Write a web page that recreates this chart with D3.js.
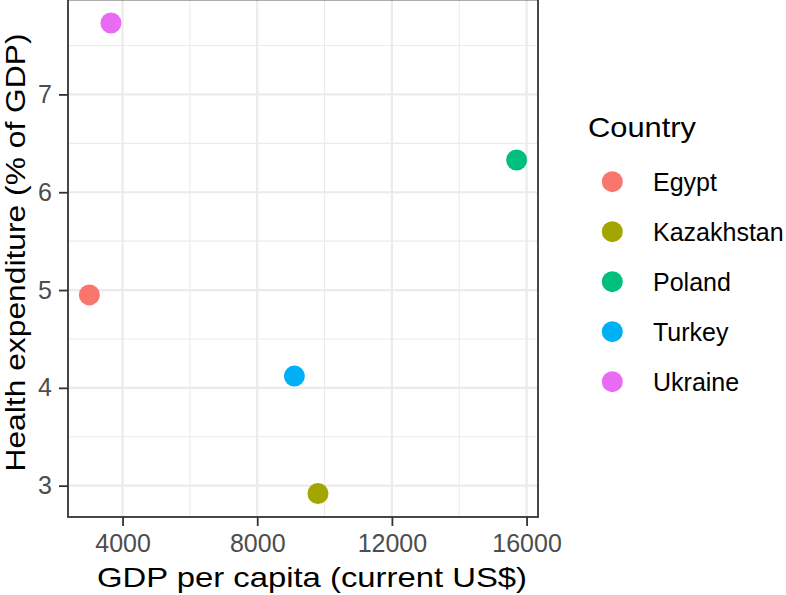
<!DOCTYPE html>
<html>
<head>
<meta charset="utf-8">
<script src="https://cdn.jsdelivr.net/npm/d3@7/dist/d3.min.js"></script>
<style>
  html, body { margin: 0; padding: 0; background: #fff; }
  text { font-family: "Liberation Sans", Arial, Helvetica, sans-serif; }
</style>
</head>
<body>
<svg id="chart" width="786" height="595"></svg>
<script>
// ---- data ----
const countries = ["Egypt", "Kazakhstan", "Poland", "Turkey", "Ukraine"];
const gdpPerCapita = [3014, 9804, 15705, 9104, 3655];
const healthExp = [4.95, 2.92, 6.33, 4.12, 7.73];
const colors = ["#F8766D", "#A3A500", "#00BF7D", "#00B0F6", "#E76BF3"];
const xTicks = [4000, 8000, 12000, 16000];
const xMinor = [6000, 10000, 14000];
const yTicks = [3, 4, 5, 6, 7];
const yMinor = [3.5, 4.5, 5.5, 6.5, 7.5];
const xTitle = "GDP per capita (current US$)";
const yTitle = "Health expenditure (% of GDP)";
const legendTitle = "Country";

const data = countries.map((c, i) => ({ country: c, x: gdpPerCapita[i], y: healthExp[i], color: colors[i] }));

// ---- layout ----
const svg = d3.select("#chart");
const P = { left: 68, right: 538, top: -0.5, bottom: 517 };

function expand(ext) { const r = ext[1] - ext[0]; return [ext[0] - 0.05 * r, ext[1] + 0.05 * r]; }
const x = d3.scaleLinear().domain(expand(d3.extent(gdpPerCapita))).range([P.left, P.right]);
const y = d3.scaleLinear().domain(expand(d3.extent(healthExp))).range([P.bottom, P.top]);
const color = d3.scaleOrdinal().domain(countries).range(colors);

const g = svg.append("g");

// panel background
g.append("rect").attr("x", P.left).attr("y", P.top)
  .attr("width", P.right - P.left).attr("height", P.bottom - P.top).attr("fill", "#fff");

// minor grid
g.selectAll(".xminor").data(xMinor.filter(v => x(v) > P.left && x(v) < P.right)).enter().append("line")
  .attr("x1", d => x(d)).attr("x2", d => x(d)).attr("y1", P.top).attr("y2", P.bottom)
  .attr("stroke", "#EBEBEB").attr("stroke-width", 1.1);
g.selectAll(".yminor").data(yMinor.filter(v => y(v) > P.top && y(v) < P.bottom)).enter().append("line")
  .attr("y1", d => y(d)).attr("y2", d => y(d)).attr("x1", P.left).attr("x2", P.right)
  .attr("stroke", "#EBEBEB").attr("stroke-width", 1.1);
// major grid
g.selectAll(".xmajor").data(xTicks).enter().append("line")
  .attr("x1", d => x(d)).attr("x2", d => x(d)).attr("y1", P.top).attr("y2", P.bottom)
  .attr("stroke", "#EBEBEB").attr("stroke-width", 2.2);
g.selectAll(".ymajor").data(yTicks).enter().append("line")
  .attr("y1", d => y(d)).attr("y2", d => y(d)).attr("x1", P.left).attr("x2", P.right)
  .attr("stroke", "#EBEBEB").attr("stroke-width", 2.2);

// points
g.selectAll(".pt").data(data).enter().append("circle")
  .attr("cx", d => x(d.x)).attr("cy", d => y(d.y)).attr("r", 10.5)
  .attr("fill", d => color(d.country));

// panel border
g.append("rect").attr("x", P.left).attr("y", P.top)
  .attr("width", P.right - P.left).attr("height", P.bottom - P.top)
  .attr("fill", "none").attr("stroke", "#333333").attr("stroke-width", 1.8);

// axes
const xAxis = d3.axisBottom(x).tickValues(xTicks).tickFormat(d3.format("d")).tickSize(9).tickPadding(8);
const xa = svg.append("g").attr("transform", `translate(0,${P.bottom})`).call(xAxis);
xa.select(".domain").remove();
xa.selectAll(".tick line").attr("stroke", "#333333").attr("stroke-width", 1.8);
xa.selectAll(".tick text").attr("fill", "#4D4D4D").style("font-size", "25px")
  .style("font-family", "'Liberation Sans', Arial, sans-serif");

const yAxis = d3.axisLeft(y).tickValues(yTicks).tickFormat(d3.format("d")).tickSize(9).tickPadding(7);
const ya = svg.append("g").attr("transform", `translate(${P.left},0)`).call(yAxis);
ya.select(".domain").remove();
ya.selectAll(".tick line").attr("stroke", "#333333").attr("stroke-width", 1.8);
ya.selectAll(".tick text").attr("fill", "#4D4D4D").style("font-size", "25px")
  .style("font-family", "'Liberation Sans', Arial, sans-serif");

// axis titles
svg.append("text").attr("x", 312).attr("y", 587).attr("text-anchor", "middle")
  .attr("textLength", 430).attr("lengthAdjust", "spacingAndGlyphs")
  .style("font-size", "28px").attr("fill", "#000").text(xTitle);
svg.append("text").attr("transform", `translate(24.5,252.5) rotate(-90)`)
  .attr("text-anchor", "middle").attr("textLength", 438).attr("lengthAdjust", "spacingAndGlyphs")
  .style("font-size", "27px").attr("fill", "#000").text(yTitle);

// legend
const lg = svg.append("g");
lg.append("text").attr("x", 588).attr("y", 136.5).attr("textLength", 108).attr("lengthAdjust", "spacingAndGlyphs")
  .style("font-size", "28px").attr("fill", "#000").text(legendTitle);
const items = lg.selectAll(".item").data(countries).enter().append("g")
  .attr("transform", (d, i) => `translate(0,${181.7 + i * 50})`);
items.append("circle").attr("cx", 612.3).attr("cy", 0).attr("r", 10.5).attr("fill", d => color(d));
items.append("text").attr("x", 653).attr("y", 9.5).style("font-size", "25px").attr("fill", "#000").text(d => d);
</script>
</body>
</html>
